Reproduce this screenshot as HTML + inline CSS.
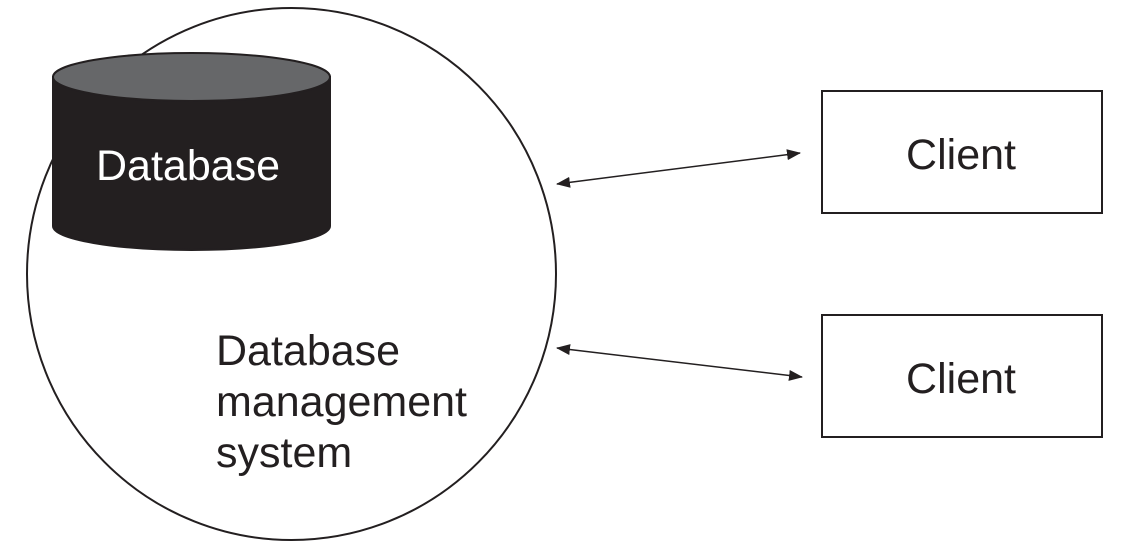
<!DOCTYPE html>
<html><head><meta charset="utf-8"><style>
html,body{margin:0;padding:0;background:#fff}
svg{display:block}
text{font-family:"Liberation Sans",sans-serif;font-size:43px}
</style></head><body>
<svg width="1140" height="557" viewBox="0 0 1140 557" xmlns="http://www.w3.org/2000/svg">
<defs>
<marker id="a" viewBox="0 0 14 11" refX="13" refY="5.5" markerWidth="14" markerHeight="11" markerUnits="userSpaceOnUse" orient="auto-start-reverse">
<path d="M0,0 L14,5.5 L0,11 z" fill="#231f20"/>
</marker>
</defs>
<ellipse cx="291.5" cy="274" rx="264.5" ry="266" fill="#fff" stroke="#231f20" stroke-width="2"/>
<path d="M53,77 L53,226 A138.5,24 0 0 0 330,226 L330,77 Z" fill="#231f20" stroke="#231f20" stroke-width="2"/>
<ellipse cx="191.5" cy="77" rx="138.5" ry="24" fill="#666769" stroke="#231f20" stroke-width="2"/>
<text x="96" y="180" fill="#fff">Database</text>
<text x="216" y="365" fill="#231f20">Database</text>
<text x="216" y="416" fill="#231f20">management</text>
<text x="216" y="467" fill="#231f20">system</text>
<rect x="822" y="91" width="280" height="122" fill="#fff" stroke="#231f20" stroke-width="2"/>
<rect x="822" y="315" width="280" height="122" fill="#fff" stroke="#231f20" stroke-width="2"/>
<text x="961" y="169" text-anchor="middle" fill="#231f20">Client</text>
<text x="961" y="393" text-anchor="middle" fill="#231f20">Client</text>
<line x1="557" y1="184" x2="800" y2="153" stroke="#231f20" stroke-width="1.5" marker-start="url(#a)" marker-end="url(#a)"/>
<line x1="557" y1="348" x2="802" y2="377" stroke="#231f20" stroke-width="1.5" marker-start="url(#a)" marker-end="url(#a)"/>
</svg>
</body></html>
